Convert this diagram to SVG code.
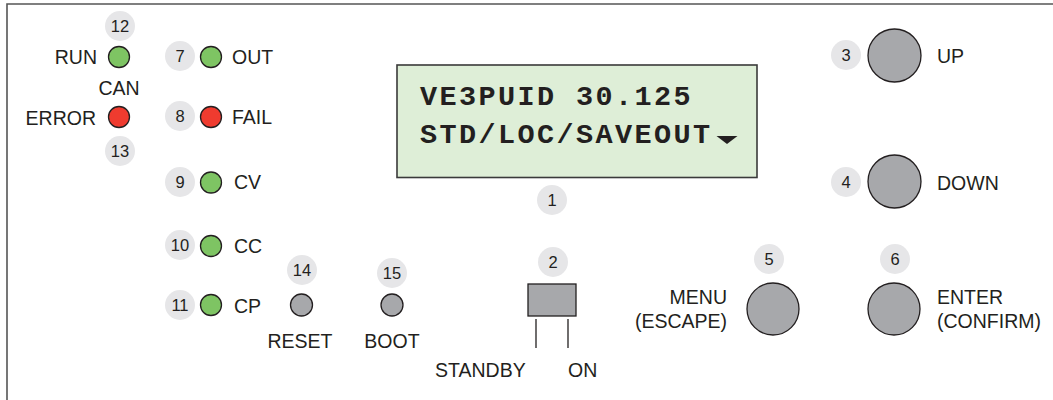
<svg xmlns="http://www.w3.org/2000/svg" width="1053" height="400" viewBox="0 0 1053 400">
<style>
.lbl{font-family:"Liberation Sans",Arial,sans-serif;font-size:19.5px;fill:#231f20}
.num{font-family:"Liberation Sans",Arial,sans-serif;font-size:16.5px;fill:#231f20;text-anchor:middle}
.badge{fill:#e6e6e8}
.g{fill:#7ec463;stroke:#231f20;stroke-width:1.3}
.r{fill:#ef3b2f;stroke:#231f20;stroke-width:1.3}
.btn{fill:#a7a8ab;stroke:#231f20;stroke-width:1.3}
.lcd{font-family:"Liberation Mono","Courier New",monospace;font-weight:bold;font-size:28.5px;letter-spacing:2.4px;fill:#231f20}
</style>
<rect width="1053" height="400" fill="#fff"/>
<path d="M7,410 V4 H1060" fill="none" stroke="#555" stroke-width="1.6"/>

<g id="run">
<circle class="badge" cx="120" cy="26" r="15"/><text class="num" x="120" y="32">12</text>
<circle class="g" cx="119" cy="57" r="10.5"/>
<text class="lbl" x="97" y="64" text-anchor="end">RUN</text>
</g>
<g id="canerror">
<text class="lbl" x="119" y="95" text-anchor="middle">CAN</text>
<text class="lbl" x="96" y="125" text-anchor="end">ERROR</text>
<circle class="r" cx="119" cy="117" r="10.5"/>
<circle class="badge" cx="120" cy="151" r="15"/><text class="num" x="120" y="157">13</text>
</g>
<g id="out">
<circle class="badge" cx="180" cy="56" r="15"/><text class="num" x="180" y="62">7</text>
<circle class="g" cx="211" cy="57" r="10.5"/>
<text class="lbl" x="232" y="64">OUT</text>
</g>
<g id="fail">
<circle class="badge" cx="180" cy="116" r="15"/><text class="num" x="180" y="122">8</text>
<circle class="r" cx="211" cy="117" r="10.5"/>
<text class="lbl" x="232" y="124">FAIL</text>
</g>
<g id="cv">
<circle class="badge" cx="180" cy="182" r="15"/><text class="num" x="180" y="188">9</text>
<circle class="g" cx="211" cy="182.5" r="10.5"/>
<text class="lbl" x="234" y="189">CV</text>
</g>
<g id="cc">
<circle class="badge" cx="180" cy="245" r="15"/><text class="num" x="180" y="251">10</text>
<circle class="g" cx="211" cy="246" r="10.5"/>
<text class="lbl" x="234" y="253">CC</text>
</g>
<g id="cp">
<circle class="badge" cx="180" cy="305" r="15"/><text class="num" x="180" y="311">11</text>
<circle class="g" cx="211" cy="305" r="10.5"/>
<text class="lbl" x="234" y="313">CP</text>
</g>
<g id="reset">
<circle class="badge" cx="302" cy="270" r="15"/><text class="num" x="302" y="276">14</text>
<circle class="btn" cx="301.5" cy="305" r="11"/>
<text class="lbl" x="300" y="348" text-anchor="middle">RESET</text>
</g>
<g id="boot">
<circle class="badge" cx="392" cy="273" r="15"/><text class="num" x="392" y="279">15</text>
<circle class="btn" cx="392" cy="305" r="11"/>
<text class="lbl" x="392" y="348" text-anchor="middle">BOOT</text>
</g>
<g id="lcd">
<rect x="397" y="65" width="360" height="112.5" fill="#deeed7" stroke="#3a3a3a" stroke-width="1.6"/>
<text class="lcd" x="420" y="105">VE3PUID 30.125</text>
<text class="lcd" x="420" y="143">STD/LOC/SAVEOUT</text>
<polygon points="716.5,136 737.5,136 727,144" fill="#231f20"/>
<circle class="badge" cx="552" cy="200" r="15"/><text class="num" x="552" y="206">1</text>
</g>
<g id="switch">
<circle class="badge" cx="553" cy="262" r="15"/><text class="num" x="553" y="268">2</text>
<rect x="528" y="284" width="48" height="32" fill="#a7a8ab" stroke="#231f20" stroke-width="1.3"/>
<text class="lbl" x="435" y="377">STANDBY</text>
<text class="lbl" x="568" y="377">ON</text>
</g>
<g id="up">
<circle class="badge" cx="846" cy="55" r="15"/><text class="num" x="846" y="61">3</text>
<circle class="btn" cx="894.5" cy="55.5" r="26.5"/>
<text class="lbl" x="937" y="63">UP</text>
</g>
<g id="down">
<circle class="badge" cx="846" cy="182" r="15"/><text class="num" x="846" y="188">4</text>
<circle class="btn" cx="894.5" cy="181.5" r="26.5"/>
<text class="lbl" x="937" y="190">DOWN</text>
</g>
<g id="menu">
<circle class="badge" cx="769" cy="259" r="15"/><text class="num" x="769" y="265">5</text>
<circle class="btn" cx="773" cy="309" r="26"/>
<text class="lbl" x="727" y="304" text-anchor="end">MENU</text>
<text class="lbl" x="727" y="328" text-anchor="end">(ESCAPE)</text>
</g>
<g id="enter">
<circle class="badge" cx="895" cy="259" r="15"/><text class="num" x="895" y="265">6</text>
<circle class="btn" cx="894" cy="309" r="26"/>
<text class="lbl" x="937" y="304">ENTER</text>
<text class="lbl" x="937" y="328">(CONFIRM)</text>
</g>
<g id="connectors" stroke="#231f20" stroke-width="1.3">
<line x1="536" y1="319" x2="536" y2="348"/>
<line x1="568" y1="319" x2="568" y2="348"/>
</g>
</svg>
